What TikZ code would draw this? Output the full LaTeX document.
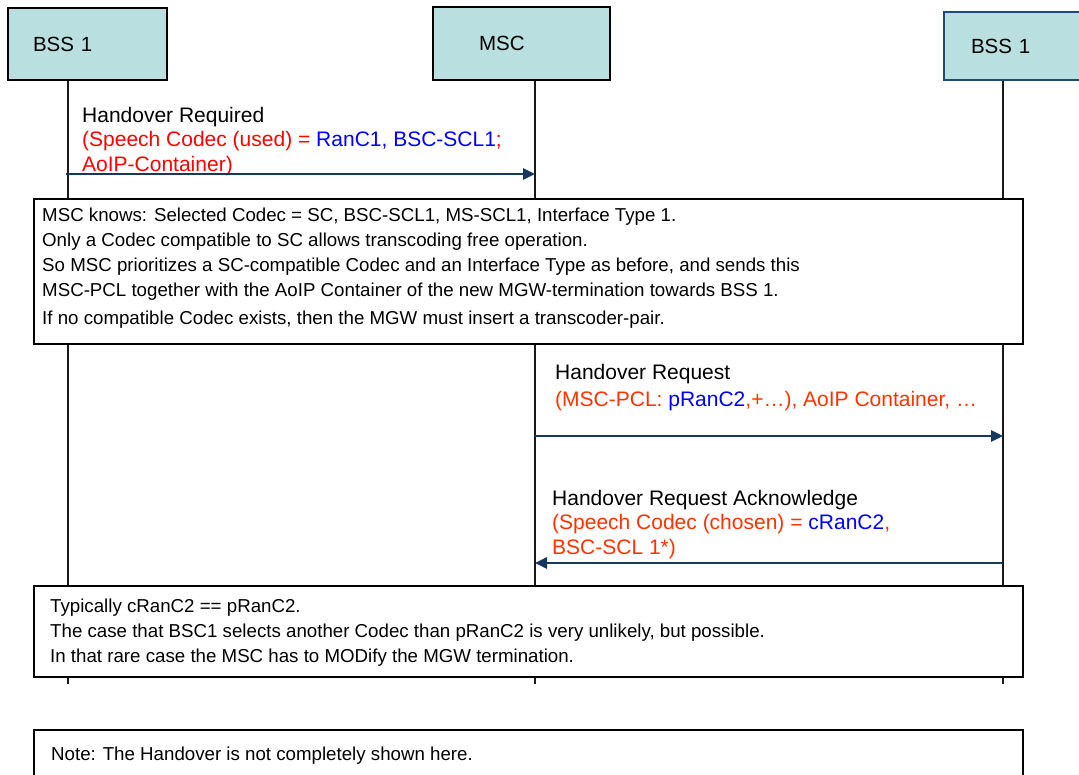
\documentclass[tikz,border=0pt]{standalone}
\usepackage{fontspec}
\setmainfont{Liberation Sans}
\usetikzlibrary{arrows.meta}
\definecolor{boxfill}{RGB}{185,223,225}
\definecolor{navy}{RGB}{23,55,94}
\definecolor{rborder}{RGB}{31,73,120}
\definecolor{redA}{RGB}{255,0,0}
\definecolor{redB}{RGB}{255,51,0}
\definecolor{blueA}{RGB}{0,0,255}
\begin{document}
\begin{tikzpicture}[x=1pt,y=-1pt,
  actor/.style={draw=black, line width=2pt, fill=boxfill, anchor=north west, inner ysep=0pt, align=left, font=\fontsize{20.5}{24}\selectfont},
  lifeline/.style={line width=1.6pt, draw=black!90},
  msgarrow/.style={-{Triangle[length=12pt,width=11pt]}, line width=2.6pt, draw=navy},
  notebox/.style={draw=black, line width=1.8pt, fill=white, anchor=north west, inner sep=0pt},
  msgtext/.style={anchor=north west, inner sep=0pt, align=left, font=\fontsize{21}{24.5}\selectfont},
  boxtext/.style={anchor=north west, inner sep=0pt, align=left, font=\fontsize{18.7}{25}\selectfont}]
\useasboundingbox (0,0) rectangle (1079,774);
\clip (0,0) rectangle (1079,774);
\fill[white] (0,0) rectangle (1079,774);
% lifelines
\coordinate (L1t) at (68,79);  \coordinate (L1b) at (68,684);
\coordinate (L2t) at (535,79); \coordinate (L2b) at (535,684);
\coordinate (L3t) at (1003,79); \coordinate (L3b) at (1003,684);
\draw[lifeline] (L1t) -- (L1b);
\draw[lifeline] (L2t) -- (L2b);
\draw[lifeline] (L3t) -- (L3b);
% actors
\node[actor, text width=109pt, inner xsep=25pt, minimum height=72pt] (bssL) at (7,7) {BSS 1};
\node[actor, text width=85pt, inner xsep=46pt, minimum height=73pt] (msc) at (432,6) {MSC};
\node[actor, draw=rborder, text width=95pt, inner xsep=27pt, minimum height=68pt] (bssR) at (943,11) {BSS 1};
% message 1
\node[msgtext] (t1) at (82,107) {Handover Required\\
  \color{redA}(Speech Codec (used) = \textcolor{blueA}{RanC1, BSC-SCL1};\\
  \color{redA}AoIP-Container)};
\coordinate (m1s) at (66,174); \coordinate (m1e) at (535,174);
\draw[msgarrow] (m1s) -- (m1e);
% note box 1
\node[notebox, minimum width=989pt, minimum height=145pt] (n1) at (33,198) {};
\node[boxtext] (n1t) at (42,208) {MSC knows: Selected Codec = SC, BSC-SCL1, MS-SCL1, Interface Type 1.\\
Only a Codec compatible to SC allows transcoding free operation.\\
So MSC prioritizes a SC-compatible Codec and an Interface Type as before, and sends this\\
MSC-PCL together with the AoIP Container of the new MGW-termination towards BSS 1.\\[3pt]
If no compatible Codec exists, then the MGW must insert a transcoder-pair.};
% message 2
\node[msgtext] (t2) at (555,364) {Handover Request\\[3pt]
  \color{redB}(MSC-PCL: \textcolor{blueA}{pRanC2},+\dots), AoIP Container, \dots};
\coordinate (m2s) at (535,436); \coordinate (m2e) at (1003,436);
\draw[msgarrow] (m2s) -- (m2e);
% message 3
\node[msgtext] (t3) at (552,490) {Handover Request Acknowledge\\
  \color{redB}(Speech Codec (chosen) = \textcolor{blueA}{cRanC2},\\
  \color{redB}BSC-SCL 1*)};
\coordinate (m3s) at (1003,563); \coordinate (m3e) at (535,563);
\draw[msgarrow] (m3s) -- (m3e);
% note box 2
\node[notebox, minimum width=989pt, minimum height=91pt] (n2) at (33,585) {};
\node[boxtext] (n2t) at (50,599) {Typically cRanC2 == pRanC2.\\
The case that BSC1 selects another Codec than pRanC2 is very unlikely, but possible.\\
In that rare case the MSC has to MODify the MGW termination.};
% note box 3
\node[notebox, minimum width=989pt, minimum height=70pt] (n3) at (33,729) {};
\node[boxtext] (n3t) at (51,747) {Note: The Handover is not completely shown here.};
\end{tikzpicture}
\end{document}
